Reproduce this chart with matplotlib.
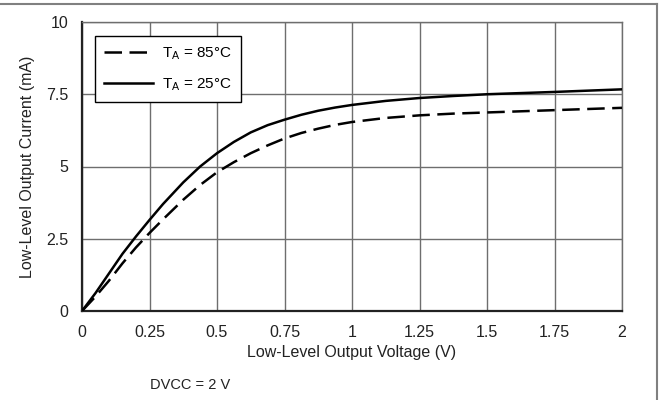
import numpy as np
import matplotlib.pyplot as plt
from matplotlib.lines import Line2D

plt.rcParams['font.family'] = ['Liberation Sans', 'DejaVu Sans']
plt.rcParams['mathtext.fontset'] = 'custom'
plt.rcParams['mathtext.rm'] = 'Liberation Sans'

# values (V, mA)
v_25 = [0, 0.05, 0.1, 0.15, 0.2, 0.25, 0.3, 0.375, 0.4375, 0.5, 0.5625, 0.625, 0.6875, 0.75,
        0.8125, 0.875, 0.9375, 1.0, 1.125, 1.25, 1.375, 1.5, 1.75, 2.0]
i_25 = [0, 0.62, 1.3, 1.98, 2.58, 3.15, 3.7, 4.45, 5.0, 5.46, 5.85, 6.18, 6.43, 6.62,
        6.79, 6.93, 7.04, 7.13, 7.27, 7.37, 7.44, 7.5, 7.58, 7.67]
v_85 = [0, 0.05, 0.1, 0.15, 0.2, 0.25, 0.3, 0.375, 0.4375, 0.5, 0.5625, 0.625, 0.6875, 0.75,
        0.8125, 0.875, 0.9375, 1.0, 1.125, 1.25, 1.375, 1.5, 1.75, 2.0]
i_85 = [0, 0.5, 1.05, 1.65, 2.2, 2.7, 3.17, 3.85, 4.36, 4.8, 5.15, 5.46, 5.73, 5.97,
        6.16, 6.31, 6.44, 6.54, 6.68, 6.77, 6.83, 6.87, 6.95, 7.03]

x_ticks = [0, 0.25, 0.5, 0.75, 1, 1.25, 1.5, 1.75, 2]
x_labels = ["0", "0.25", "0.5", "0.75", "1", "1.25", "1.5", "1.75", "2"]
y_ticks = [0, 2.5, 5, 7.5, 10]
y_labels = ["0", "2.5", "5", "7.5", "10"]

fig = plt.figure(figsize=(6.6, 4), dpi=100)
ax = fig.add_axes([82/660, 1 - 311/400, 540/660, 289/400])

ax.plot(v_85, i_85, color='black', lw=1.8, ls=(0, (7, 3)), label=r'T$_{\rm A}$ = 85°C', zorder=3)
ax.plot(v_25, i_25, color='black', lw=1.8, label=r'T$_{\rm A}$ = 25°C', zorder=3)

ax.set_xlim(0, 2)
ax.set_ylim(0, 10)
ax.set_xticks(x_ticks)
ax.set_xticklabels(x_labels)
ax.set_yticks(y_ticks)
ax.set_yticklabels(y_labels)
ax.tick_params(length=0, labelsize=11.5, pad=10, colors='#222222')
ax.grid(True, color='#6e6e6e', lw=1.0)
ax.set_axisbelow(True)

for s in ['left', 'bottom']:
    ax.spines[s].set_color('#222222')
    ax.spines[s].set_linewidth(1.6)
for s in ['top', 'right']:
    ax.spines[s].set_color('#6e6e6e')
    ax.spines[s].set_linewidth(1.0)

ax.set_xlabel('Low-Level Output Voltage (V)', fontsize=11.5, labelpad=4, color='#222222')
ax.set_ylabel('Low-Level Output Current (mA)', fontsize=11.5, labelpad=8, color='#222222')

leg = ax.legend(loc='upper left', bbox_to_anchor=(0.024, 0.952), borderaxespad=0,
                fontsize=11, frameon=True, fancybox=False, edgecolor='black',
                framealpha=1, handlelength=3.2, handletextpad=0.6, labelspacing=0.95,
                borderpad=0.6)
leg.get_frame().set_linewidth(1.0)

fig.text(190/660, 1 - 385/400, 'DVCC = 2 V', fontsize=10.5, ha='center', va='center', color='#222222')

# outer frame (top and right edges)
fig.add_artist(Line2D([0, 657/660], [1 - 4/400, 1 - 4/400], transform=fig.transFigure, color='#808080', lw=1.5))
fig.add_artist(Line2D([657/660, 657/660], [0, 1 - 4/400], transform=fig.transFigure, color='#808080', lw=1.5))

fig.savefig('out.png', dpi=100)
